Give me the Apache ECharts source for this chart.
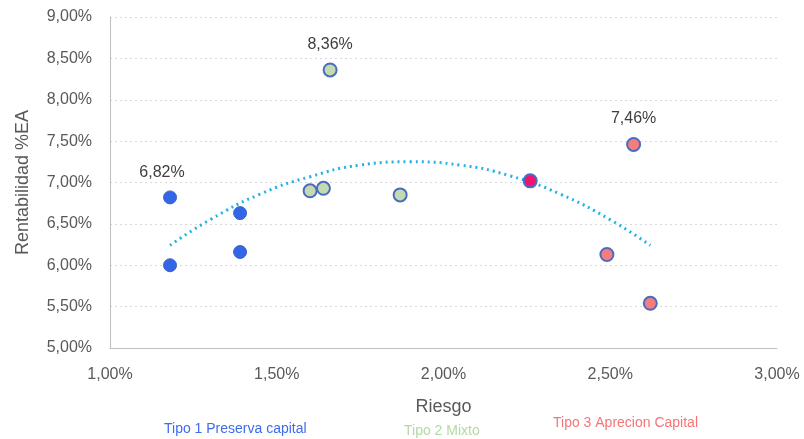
<!DOCTYPE html>
<html>
<head>
<meta charset="utf-8">
<script src="https://cdn.jsdelivr.net/npm/echarts@6/dist/echarts.min.js"></script>
<style>
  html, body { margin: 0; padding: 0; background: #fff; }
  #chart { width: 804px; height: 439px; }
</style>
</head>
<body>
<div id="chart"></div>
<script>
// Datos (riesgo %, rentabilidad %)
var tipo1 = [[1.18, 6.82], [1.18, 6.00], [1.39, 6.63], [1.39, 6.16]];
var tipo2 = [[1.60, 6.90], [1.64, 6.93], [1.66, 8.36], [1.87, 6.85]];
var tipo3 = [[2.26, 7.02], [2.49, 6.13], [2.57, 7.46], [2.62, 5.54]];
// línea de tendencia (polinómica)
var tendencia = [[1.18, 6.24], [1.30, 6.55], [1.45, 6.86], [1.60, 7.07], [1.75, 7.21], [1.90, 7.25],
                 [2.05, 7.21], [2.20, 7.08], [2.35, 6.86], [2.50, 6.55], [2.62, 6.24]];
var etiquetas = [[1.18, 6.82], [1.66, 8.36], [2.57, 7.46]];

var font = "'Liberation Sans', sans-serif";

function pct(v) {
    return v.toFixed(2).replace('.', ',') + '%';
}

// marca los puntos con etiqueta
function conEtiquetas(arr, offset) {
    return arr.map(function(p) {
        var tiene = etiquetas.some(function(e) { return e[0] == p[0] && e[1] == p[1]; });
        if(!tiene) return p;
        return {
            value: p,
            label: {
                show: true,
                position: 'top',
                offset: offset || [0, 0],
                distance: 10,
                formatter: function(o) { return pct(o.value[1]); },
                color: '#404040',
                fontSize: 16,
                fontFamily: font
            }
        };
    });
}

var chart = echarts.init(document.getElementById('chart'));
var option = {
    animation: false,
    grid: { left: 110, right: 27, top: 17, bottom: 91 },
    xAxis: {
        type: 'value',
        min: 1, max: 3, interval: 0.5,
        name: 'Riesgo',
        nameLocation: 'middle',
        nameGap: 50,
        nameTextStyle: { color: '#595959', fontSize: 18, fontFamily: font },
        axisLine: { show: true, lineStyle: { color: '#bfbfbf' } },
        axisTick: { show: false },
        splitLine: { show: false },
        axisLabel: { formatter: pct, color: '#595959', fontSize: 16, fontFamily: font, margin: 19 }
    },
    yAxis: {
        type: 'value',
        min: 5, max: 9, interval: 0.5,
        name: 'Rentabilidad %EA',
        nameLocation: 'middle',
        nameGap: 78,
        nameTextStyle: { color: '#595959', fontSize: 18, fontFamily: font },
        axisLine: { show: true, lineStyle: { color: '#bfbfbf' } },
        axisTick: { show: false },
        splitLine: { show: true, lineStyle: { color: '#d9d9d9', type: [2, 3] } },
        axisLabel: { formatter: pct, color: '#595959', fontSize: 16, fontFamily: font, margin: 18 }
    },
    series: [{
        name: 'Tendencia',
        type: 'line',
        data: tendencia,
        smooth: true,
        symbol: 'none',
        lineStyle: { color: '#1fb3e8', width: 3, type: [2, 4] },
        z: 1
    }, {
        name: 'Tipo 1 Preserva capital',
        type: 'scatter',
        data: conEtiquetas(tipo1, [-8, 0]),
        symbolSize: 13,
        itemStyle: { color: '#3366e6', borderColor: '#3d64c8', borderWidth: 1, opacity: 1 },
        z: 3
    }, {
        name: 'Tipo 2 Mixto',
        type: 'scatter',
        data: conEtiquetas(tipo2),
        symbolSize: 13,
        itemStyle: { color: '#c4dbb1', borderColor: '#4a6cc0', borderWidth: 2, opacity: 1 },
        z: 3
    }, {
        name: 'Tipo 3 Aprecion Capital',
        type: 'scatter',
        data: conEtiquetas(tipo3).map(function(p, i) {
            if(i == 0) return { value: p, itemStyle: { color: '#ee1470' } };
            return p;
        }),
        symbolSize: 13,
        itemStyle: { color: '#f47d80', borderColor: '#4a6cc0', borderWidth: 2, opacity: 1 },
        z: 3
    }],
    graphic: [
        { type: 'text', left: 164, top: 422, style: { text: 'Tipo 1 Preserva capital', fill: '#3d6cf0', font: '14px ' + font } },
        { type: 'text', left: 404, top: 424, style: { text: 'Tipo 2 Mixto', fill: '#b4d9a4', font: '14px ' + font } },
        { type: 'text', left: 553, top: 416, style: { text: 'Tipo 3 Aprecion Capital', fill: '#f47577', font: '14px ' + font } }
    ]
};
chart.setOption(option);
</script>
</body>
</html>
